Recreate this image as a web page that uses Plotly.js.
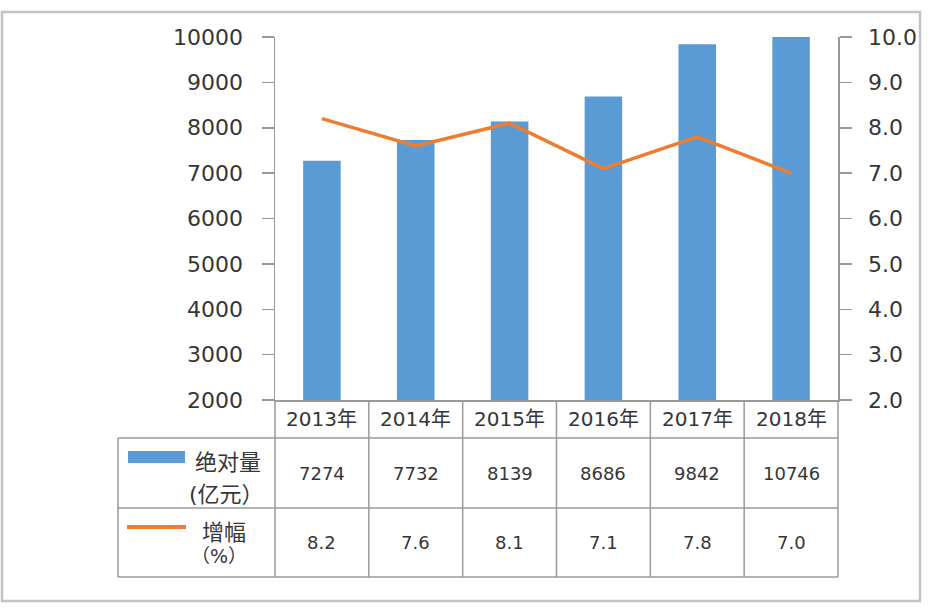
<!DOCTYPE html>
<html>
<head>
<meta charset="utf-8">
<script src="https://cdn.plot.ly/plotly-3.0.1.min.js"></script>
<style>
  html, body { margin: 0; padding: 0; background: #fff; }
  #chart { width: 946px; height: 612px; }
</style>
</head>
<body>
<div id="chart"></div>
<script>
  // 数据
  var years = ["2013年", "2014年", "2015年", "2016年", "2017年", "2018年"];
  var amount = [7274, 7732, 8139, 8686, 9842, 10746];   // 绝对量（亿元）
  var growth = [8.2, 7.6, 8.1, 7.1, 7.8, 7.0];           // 增幅（%）
  var amountLabel = ["绝对量", "(亿元）"];
  var growthLabel = ["增幅", "（%）"];

  var W = 946, H = 612;
  var M = { l: 275, r: 108, t: 37, b: 212 };
  var PW = W - M.l - M.r, PH = H - M.t - M.b;
  // 像素 -> paper 坐标
  function px(x) { return (x - M.l) / PW; }
  function py(y) { return (H - M.b - y) / PH; }

  var BLUE = "#5B9BD5", ORANGE = "#ED7D31", GRID = "#9a9a9a", TXT = "#363636";
  var FONT = "DejaVu Sans, Noto Sans CJK SC, sans-serif";

  var traces = [
    { type: "bar", x: years, y: amount, name: amountLabel.join(""),
      marker: { color: BLUE }, hoverinfo: "x+y" },
    { type: "scatter", mode: "lines", x: years, y: growth, yaxis: "y2", name: growthLabel.join(""),
      line: { color: ORANGE, width: 3.5 }, hoverinfo: "x+y" }
  ];

  // 表格线
  var shapes = [];
  var rowY = [438, 508, 577];
  rowY.forEach(function (y) {
    shapes.push({ type: "line", xref: "paper", yref: "paper", x0: px(118), x1: 1, y0: py(y), y1: py(y),
                  line: { color: GRID, width: 1.5 } });
  });
  for (var k = 0; k <= years.length; k++) {
    shapes.push({ type: "line", xref: "paper", yref: "paper", x0: k / years.length, x1: k / years.length,
                  y0: py(400), y1: py(577), line: { color: GRID, width: 1.5 } });
  }
  shapes.push({ type: "line", xref: "paper", yref: "paper", x0: px(118), x1: px(118), y0: py(438), y1: py(577),
                line: { color: GRID, width: 1.5 } });
  // 图例标记
  shapes.push({ type: "rect", xref: "paper", yref: "paper", x0: px(128), x1: px(185), y0: py(463), y1: py(451),
                fillcolor: BLUE, line: { width: 0 } });
  shapes.push({ type: "line", xref: "paper", yref: "paper", x0: px(127), x1: px(186), y0: py(527), y1: py(527),
                line: { color: ORANGE, width: 4 } });
  // 外框
  shapes.push({ type: "rect", xref: "paper", yref: "paper", x0: px(2), x1: px(920), y0: py(601), y1: py(12),
                line: { color: "#c4c4c4", width: 2.5 } });

  var annotations = [];
  function note(x, xref, y, text, size) {
    annotations.push({ x: x, xref: xref, y: py(y), yref: "paper", text: text, showarrow: false,
                       xanchor: "center", yanchor: "middle", font: { family: FONT, size: size, color: TXT } });
  }
  years.forEach(function (yr, i) {
    note(yr, "x", 419, yr, 20);
    note(yr, "x", 473, String(amount[i]), 18);
    note(yr, "x", 542, growth[i].toFixed(1), 18);
  });
  note(px(228), "paper", 462, amountLabel[0], 22);
  note(px(226), "paper", 494, amountLabel[1], 22);
  note(px(224), "paper", 532, growthLabel[0], 22);
  note(px(219), "paper", 556, growthLabel[1], 19);

  var axisCommon = {
    showgrid: false, zeroline: false, showline: true, linecolor: GRID, linewidth: 1.5,
    ticks: "outside", ticklen: 12, tickwidth: 1.5, tickcolor: GRID, ticklabelstandoff: 14,
    tickfont: { family: FONT, size: 22, color: TXT }
  };

  var layout = {
    width: W, height: H,
    margin: M,
    paper_bgcolor: "#fff", plot_bgcolor: "#fff",
    showlegend: false,
    bargap: 0.6,
    xaxis: { type: "category", range: [-0.5, years.length - 0.5], showticklabels: false, ticks: "",
             showgrid: false, zeroline: false, showline: true, linecolor: GRID, linewidth: 1.5, fixedrange: true },
    yaxis: Object.assign({}, axisCommon, { range: [2000, 10000], dtick: 1000, tickformat: "d" }),
    yaxis2: Object.assign({}, axisCommon, { range: [2, 10], dtick: 1, tickformat: ".1f",
                                           overlaying: "y", side: "right", ticklabelstandoff: 12 }),
    shapes: shapes,
    annotations: annotations
  };

  Plotly.newPlot("chart", traces, layout, { displayModeBar: false, staticPlot: true });
</script>
</body>
</html>
